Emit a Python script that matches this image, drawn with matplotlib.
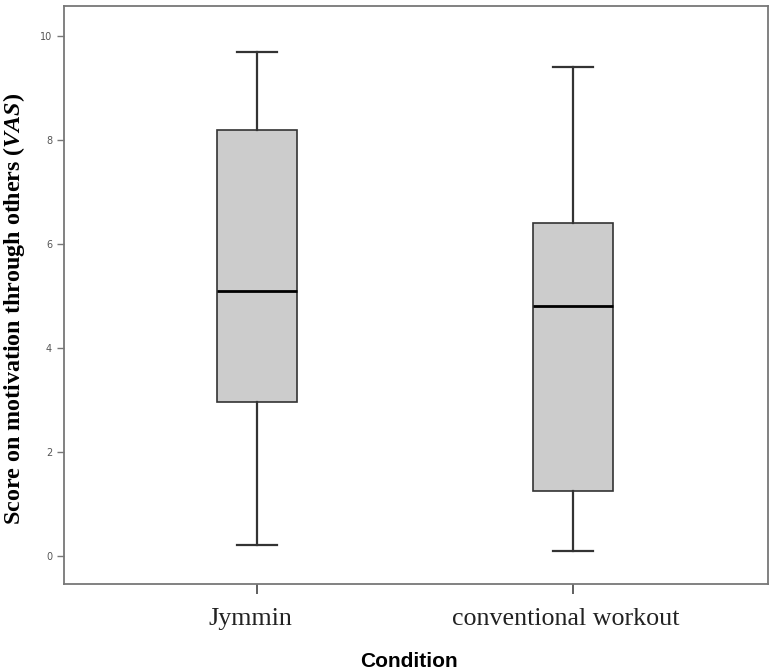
import matplotlib
matplotlib.use("Agg")
import matplotlib.pyplot as plt
from matplotlib.transforms import ScaledTranslation

plt.rcParams['mathtext.fontset'] = 'custom'
plt.rcParams['mathtext.it'] = 'Liberation Serif:italic:bold'
plt.rcParams['mathtext.rm'] = 'Liberation Serif:bold'

# box summary values
conditions = ["Jymmin", "conventional workout"]
whisker_low = [0.2, 0.1]
q1 = [2.95, 1.25]
median = [5.1, 4.8]
q3 = [8.2, 6.4]
whisker_high = [9.7, 9.4]

stats = []
for i in range(len(conditions)):
    stats.append({"label": conditions[i], "whislo": whisker_low[i], "q1": q1[i],
                  "med": median[i], "q3": q3[i], "whishi": whisker_high[i], "fliers": []})

fig = plt.figure(figsize=(7.7, 6.71), dpi=100)
ax = fig.add_axes([0.083, 0.13, 0.914, 0.861])

line_col = "#333333"
ax.bxp(stats, positions=[1, 2], widths=0.253, patch_artist=True, showfliers=False,
       boxprops=dict(facecolor="#cccccc", edgecolor=line_col, linewidth=1.2),
       whiskerprops=dict(color=line_col, linewidth=1.6),
       capprops=dict(color=line_col, linewidth=1.6),
       medianprops=dict(color="black", linewidth=2))

ax.set_xlim(0.389, 2.617)
ax.set_ylim(-0.54, 10.58)
ax.set_yticks([0, 2, 4, 6, 8, 10])
ax.tick_params(axis='y', labelsize=7, labelcolor="#555555", color="#777777", length=5, width=1)
ax.tick_params(axis='x', length=7.5, width=1.2, color="#444444", pad=10)
ax.set_xticks([1, 2])
ax.set_xticklabels(conditions, fontfamily="Liberation Serif", fontsize=18.7, color="#222222")
# labels sit a bit left of their ticks in the original
shift = ScaledTranslation(-7 / 100, 0, fig.dpi_scale_trans)
for lbl in ax.get_xticklabels():
    lbl.set_transform(lbl.get_transform() + shift)

for s in ax.spines.values():
    s.set_color("#777777")
    s.set_linewidth(1.3)

fig.text(14 / 770, 1 - 309 / 671, r"Score on motivation through others ($\mathit{VAS}$)",
         rotation=90, ha="center", va="center",
         fontfamily="Liberation Serif", fontweight="bold", fontsize=17.3)
fig.text(0.531, 1 - 652 / 671, "Condition", ha="center", va="top",
         fontfamily="Liberation Sans", fontweight="bold", fontsize=15)

fig.savefig("out.png", dpi=100)
